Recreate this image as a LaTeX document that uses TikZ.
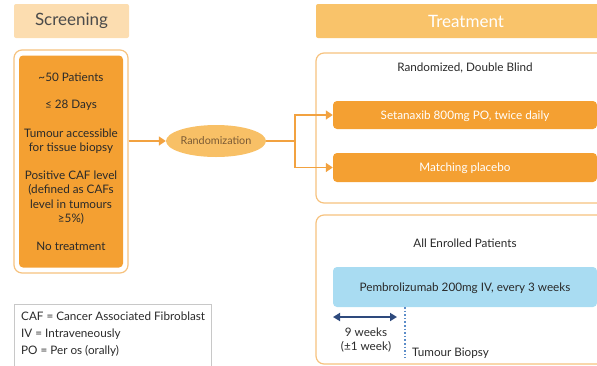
\documentclass[tikz,border=0pt]{standalone}
\usepackage{fontspec}
\setmainfont{Lato}
\usetikzlibrary{shapes.geometric,arrows.meta}
\definecolor{orangeF}{HTML}{F4A032}
\definecolor{outl}{HTML}{F6C27E}
\definecolor{hdrA}{HTML}{FCDDB0}
\definecolor{hdrB}{HTML}{F9C36A}
\definecolor{ellF}{HTML}{F8C066}
\definecolor{ellT}{HTML}{7A5A35}
\definecolor{arrC}{HTML}{F2A240}
\definecolor{blueF}{HTML}{A9DCF2}
\definecolor{navy}{HTML}{2E4A7D}
\definecolor{dotB}{HTML}{5B8CC8}
\definecolor{txt}{HTML}{2A2A2A}
\definecolor{legB}{HTML}{C8C8C8}
\tikzset{
  hdr/.style={rounded corners=2pt, minimum height=34pt, font=\fontsize{17}{20}\selectfont, inner sep=0pt},
  outer/.style={draw=outl, line width=1.2pt, rounded corners=8pt, inner sep=0pt},
  obox/.style={fill=orangeF, rounded corners=4pt, text=white, font=\fontsize{11.7}{14}\selectfont, inner sep=0pt, text depth=0pt},
  body/.style={text=txt, font=\fontsize{11.7}{14}\selectfont, align=center, inner sep=0pt},
  arr/.style={draw=arrC, line width=1.6pt, -{Triangle[length=7pt,width=9pt]}},
  ln/.style={draw=arrC, line width=1.6pt},
}
\begin{document}
\begin{tikzpicture}[x=1pt,y=-1pt]
\useasboundingbox (0,0) rectangle (597,365);
\clip (0,0) rectangle (597,365);
% Screening
\node[hdr, fill=hdrA, text=txt!85, minimum width=115pt] (hs) at (71.5,21) {Screening};
\node[outer, minimum width=114pt, minimum height=223pt] (scrout) at (71,161.5) {};
\node[obox, minimum width=104pt, minimum height=212pt] (scr) at (71,161.5) {};
\node[body] (s1) at (71,77) {\textasciitilde50 Patients};
\node[body] (s2) at (71,105) {≤ 28 Days};
\node[body, font=\fontsize{11.7}{14.5}\selectfont] (s3) at (71,141) {Tumour accessible\\for tissue biopsy};
\node[body, font=\fontsize{11.7}{14.5}\selectfont] (s4) at (71,197.5) {Positive CAF level\\(defined as CAFs\\level in tumours\\≥5\%)};
\node[body] (s5) at (71,246) {No treatment};
% Randomization
\node[ellipse, fill=ellF, minimum width=98pt, minimum height=32pt, inner sep=0pt, text=ellT, font=\fontsize{10.8}{12}\selectfont] (rand) at (216,141) {Randomization};
\draw[arr] (scrout.east |- rand.west) -- (rand.west);
\coordinate (br) at (295,141);
% Treatment
\node[hdr, fill=hdrB, text=white, minimum width=300pt] (ht) at (466,21) {Treatment};
\node[outer, minimum width=300pt, minimum height=150pt] (t1) at (466,128) {};
\node[outer, minimum width=300pt, minimum height=149pt] (t2) at (466,289.5) {};
\node[body] (rdb) at (465,68) {Randomized, Double Blind};
\node[obox, minimum width=264pt, minimum height=28pt] (seta) at (465,115) {Setanaxib 800mg PO, twice daily};
\node[obox, minimum width=264pt, minimum height=29pt] (plac) at (465,167.5) {Matching placebo};
\draw[ln] (rand.east) -- (br);
\draw[arr] (br) |- (seta.west);
\draw[arr] (br) |- (plac.west);
\node[body] (aep) at (465,243) {All Enrolled Patients};
\node[fill=blueF, rounded corners=4pt, minimum width=264pt, minimum height=40pt, inner sep=0pt, text depth=0pt, text=txt, font=\fontsize{11.7}{14}\selectfont] (pem) at (465,287) {Pembrolizumab 200mg IV, every 3 weeks};
\coordinate (da) at (333,317);
\coordinate (db) at (397,317);
\draw[navy, line width=2pt, {Triangle[length=7pt,width=8pt]}-{Triangle[length=7pt,width=8pt]}] (da) -- (db);
\coordinate (dt) at (405,307);
\coordinate (dbt) at (405,358);
\draw[dotB, line width=1.6pt, dotted] (dt) -- (dbt);
\node[body, font=\fontsize{11.7}{14}\selectfont] (nw) at (366,340) {9 weeks\\(±1 week)};
\node[body, anchor=west] (tb) at (412,353) {Tumour Biopsy};
% Legend
\node[draw=legB, line width=0.8pt, minimum width=197pt, minimum height=64pt, inner sep=0pt] (leg) at (112.5,336) {};
\node[body, anchor=west, align=left, font=\fontsize{11.7}{17}\selectfont] (legt) at (21,334) {CAF = Cancer Associated Fibroblast\\IV = Intraveneously\\PO = Per os (orally)};
\end{tikzpicture}
\end{document}
